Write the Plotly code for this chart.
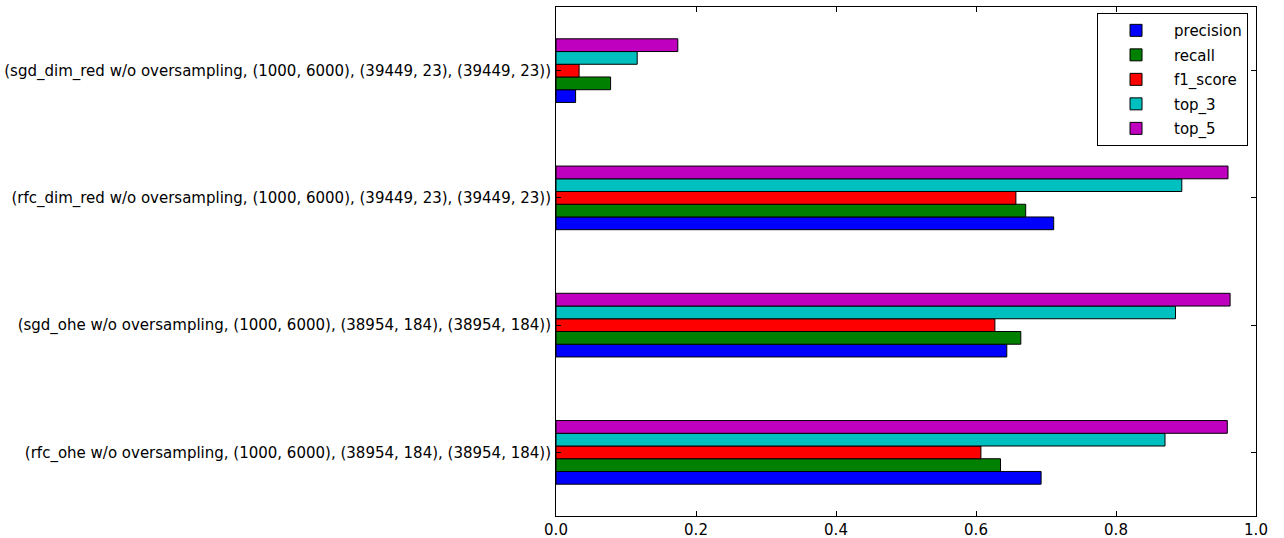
import plotly.graph_objects as go

categories = [
    "(rfc_ohe w/o oversampling, (1000, 6000), (38954, 184), (38954, 184))",
    "(sgd_ohe w/o oversampling, (1000, 6000), (38954, 184), (38954, 184))",
    "(rfc_dim_red w/o oversampling, (1000, 6000), (39449, 23), (39449, 23))",
    "(sgd_dim_red w/o oversampling, (1000, 6000), (39449, 23), (39449, 23))",
]
series_names = ["precision", "recall", "f1_score", "top_3", "top_5"]
precision = [0.693, 0.644, 0.711, 0.028]
recall = [0.635, 0.664, 0.671, 0.078]
f1_score = [0.607, 0.627, 0.657, 0.033]
top_3 = [0.870, 0.885, 0.894, 0.116]
top_5 = [0.959, 0.963, 0.960, 0.174]
series_values = [precision, recall, f1_score, top_3, top_5]
colors = ["#0000ff", "#008000", "#ff0000", "#00bfbf", "#bf00bf"]
x_ticks = [0.0, 0.2, 0.4, 0.6, 0.8, 1.0]
x_tick_labels = ["0.0", "0.2", "0.4", "0.6", "0.8", "1.0"]

FONT = "DejaVu Sans"

fig = go.Figure()
for name, vals, col in zip(series_names, series_values, colors):
    fig.add_trace(go.Bar(
        y=categories, x=vals, name=name, orientation="h",
        legendgroup=name,
        marker=dict(color=col, line=dict(color="black", width=1)),
    ))

fig.update_layout(
    width=1284, height=538,
    margin=dict(l=556, r=28, t=7, b=22),
    paper_bgcolor="white", plot_bgcolor="white",
    barmode="group", bargap=0.5, bargroupgap=0,
    font=dict(family=FONT, size=15, color="black"),
    showlegend=True,
    legend=dict(
        x=0.9886, y=0.988, xanchor="right", yanchor="top",
        bordercolor="black", borderwidth=1, bgcolor="white",
        font=dict(family=FONT, size=15), traceorder="grouped",
        tracegroupgap=2, itemwidth=66,
    ),
)
fig.update_xaxes(
    range=[0, 1.0], tickmode="array", tickvals=x_ticks, ticktext=x_tick_labels,
    ticks="inside", ticklen=5, tickcolor="black", mirror="ticks",
    showline=True, linecolor="black", linewidth=1, showgrid=False, zeroline=False,
    tickfont=dict(family=FONT, size=15), ticklabelstandoff=0, automargin=False,
)
fig.update_yaxes(
    type="category", categoryorder="array", categoryarray=categories,
    range=[-0.5, 3.5],
    ticks="inside", ticklen=5, tickcolor="black", mirror="ticks",
    showline=True, linecolor="black", linewidth=1, showgrid=False, zeroline=False,
    tickfont=dict(family=FONT, size=15), ticklabelstandoff=1, automargin=False,
)

fig.write_html("out.html")
